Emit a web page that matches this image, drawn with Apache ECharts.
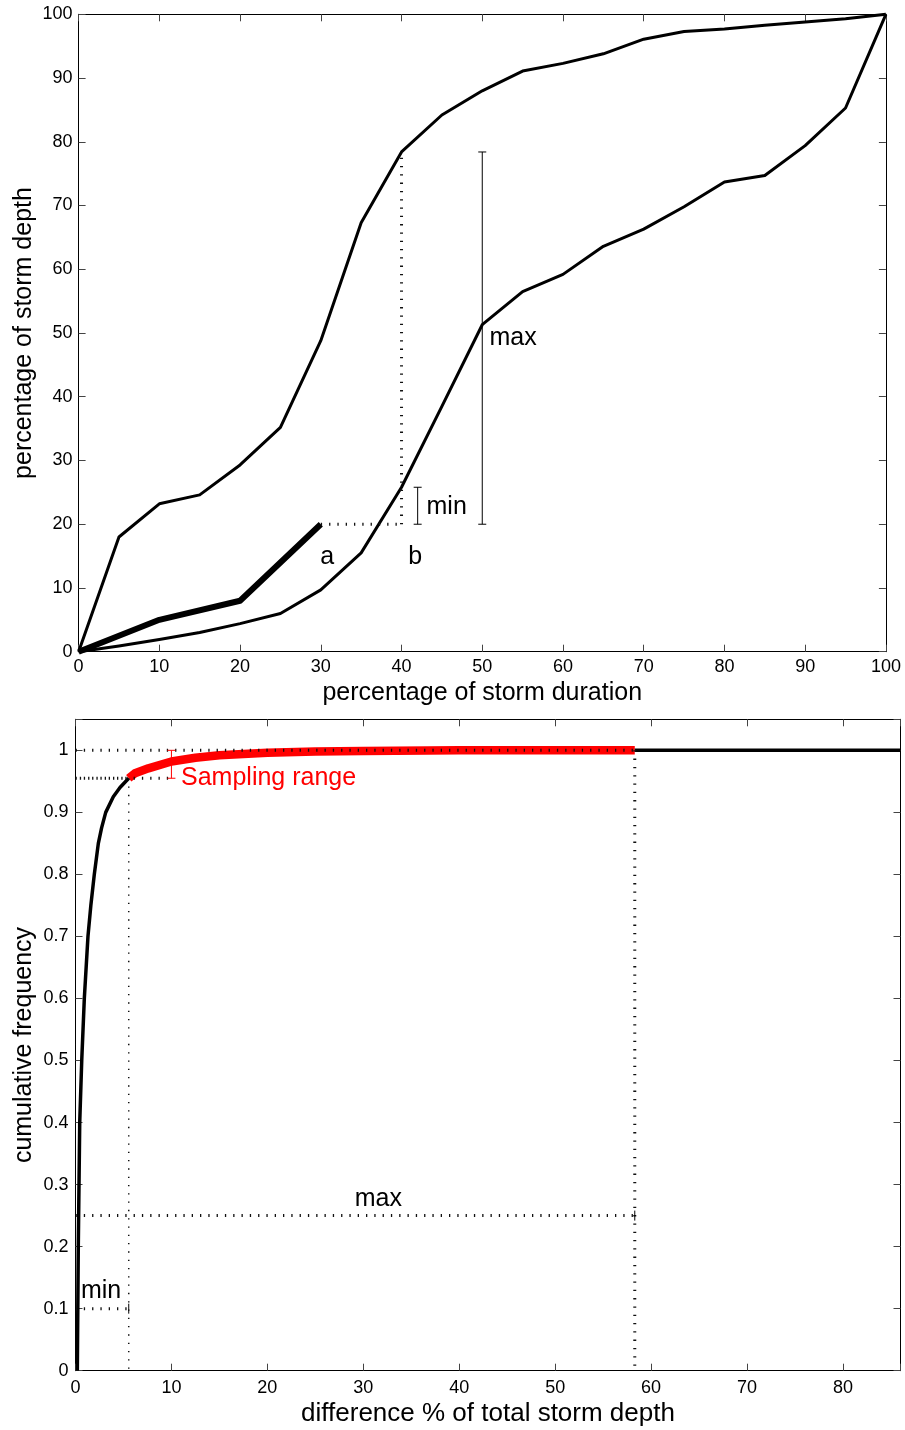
<!DOCTYPE html>
<html><head><meta charset="utf-8">
<script src="https://cdn.jsdelivr.net/npm/echarts@6/dist/echarts.min.js"></script>
<style>html,body{margin:0;padding:0;background:#fff}#c{width:905px;height:1430px}</style>
</head><body><div id="c"></div>
<script>
// ---------- top panel data ----------
const durationPct   = [0,5,10,15,20,25,30,35,40,45,50,55,60,65,70,75,80,85,90,95,100];
const upperDepthPct = [0,18,23.2,24.6,29.3,35.2,48.8,67.3,78.4,84.2,88,91.1,92.3,93.8,96.1,97.3,97.7,98.3,98.8,99.3,100];
const lowerDepthPct = [0,0.9,1.9,3.0,4.4,6.0,9.7,15.5,25.8,38.5,51.3,56.5,59.2,63.6,66.3,69.8,73.7,74.7,79.4,85.3,100];
const stormADuration = [0,10,20,30];
const stormADepth    = [0,5,8,20];
const pointBDuration = 40;
const maxBar = [50, 20, 78.4];   // duration, low, high
const minBar = [42, 20, 25.8];
const topTickStep = 10;

// ---------- bottom panel data ----------
const cdfDiff  = [0.19,0.29,0.44,0.65,0.92,1.3,1.6,1.96,2.38,2.72,3.15,3.94,4.64,5.55];
const cdfFreq  = [0,0.2,0.4,0.5,0.6,0.7,0.75,0.8,0.85,0.875,0.9,0.925,0.94,0.955];
const sampleDiff = [5.55,6.2,7.6,10,12.5,15,20,25,30,40,50,58.3];
const sampleFreq = [0.955,0.963,0.971,0.982,0.988,0.992,0.996,0.998,0.999,1,1,1];
const tailDiff = [58.3, 86];
const tailFreq = [1, 1];
const samplingBar = [10, 0.955, 1.0]; // diff, low, high
const minDiff = 5.55, maxDiff = 58.3;
const minLevel = 0.1, maxLevel = 0.25;
const bottomXMax = 86, bottomYMax = 1.05;

const FONT = '"Liberation Sans", Arial, sans-serif';
const zip = (a, b) => a.map((v, i) => [v, b[i]]);

function axisCommon(extra) {
  return Object.assign({
    type: 'value',
    nameMoveOverlap: false,
    axisLine: { show: true, onZero: false, lineStyle: { color: '#000', width: 1 } },
    axisTick: { show: true, inside: true, length: 7, lineStyle: { color: '#444', width: 1 } },
    splitLine: { show: false },
    nameTextStyle: { fontFamily: FONT, fontSize: 25, color: '#000' }
  }, extra);
}
function labelFmt(step) {
  return function (v) {
    const r = v / step;
    if (Math.abs(r - Math.round(r)) > 1e-6) return '';
    return String(+v.toFixed(3));
  };
}
const lbl = (margin, step) => ({ show: true, margin: margin, fontFamily: FONT, fontSize: 18, color: '#000', formatter: labelFmt(step) });
const noLbl = { show: false };

const xAxes = [
  axisCommon({ gridIndex: 0, position: 'bottom', min: 0, max: 100, interval: topTickStep, axisLabel: lbl(6, 10),
    name: 'percentage of storm duration', nameLocation: 'middle', nameGap: 29 }),
  axisCommon({ gridIndex: 0, position: 'top', min: 0, max: 100, interval: topTickStep, axisLabel: noLbl }),
  axisCommon({ gridIndex: 1, position: 'bottom', min: 0, max: bottomXMax, interval: 10, axisLabel: lbl(8, 10),
    name: 'difference % of total storm depth', nameLocation: 'middle', nameGap: 30,
    nameTextStyle: { fontFamily: FONT, fontSize: 26, color: '#000' } }),
  axisCommon({ gridIndex: 1, position: 'top', min: 0, max: bottomXMax, interval: 10, axisLabel: noLbl })
];
const yAxes = [
  axisCommon({ gridIndex: 0, position: 'left', min: 0, max: 100, interval: topTickStep, axisLabel: lbl(6, 10),
    name: 'percentage of storm depth', nameLocation: 'middle', nameRotate: 90, nameGap: 42 }),
  axisCommon({ gridIndex: 0, position: 'right', min: 0, max: 100, interval: topTickStep, axisLabel: noLbl }),
  axisCommon({ gridIndex: 1, position: 'left', min: 0, max: bottomYMax, interval: 0.1, axisLabel: lbl(7, 0.1),
    name: 'cumulative frequency', nameLocation: 'middle', nameRotate: 90, nameGap: 38.5 }),
  axisCommon({ gridIndex: 1, position: 'right', min: 0, max: bottomYMax, interval: 0.1, axisLabel: noLbl })
];

function lineSeries(xi, yi, data, color, width, z) {
  return { type: 'line', xAxisIndex: xi, yAxisIndex: yi, data: data, symbol: 'none', silent: true, clip: false,
    animation: false, lineStyle: { color: color, width: width, join: 'round' }, z: z || 3 };
}
function dotted(xi, yi, data, offset, width) {
  return { type: 'line', xAxisIndex: xi, yAxisIndex: yi, data: data, symbol: 'none', silent: true, clip: false,
    animation: false, lineStyle: { color: '#111', width: width || 3, type: [1.3, 7], dashOffset: offset || 0, cap: 'butt' }, z: 6 };
}
function vErr(color, half) {
  return function (params, api) {
    const x = api.value(0), lo = api.value(1), hi = api.value(2);
    const a = api.coord([x, lo]), b = api.coord([x, hi]);
    const st = { stroke: color, lineWidth: 1 };
    return { type: 'group', children: [
      { type: 'line', shape: { x1: a[0], y1: a[1], x2: b[0], y2: b[1] }, style: st },
      { type: 'line', shape: { x1: a[0] - half, y1: a[1], x2: a[0] + half, y2: a[1] }, style: st },
      { type: 'line', shape: { x1: b[0] - half, y1: b[1], x2: b[0] + half, y2: b[1] }, style: st }
    ] };
  };
}
function hCaps(color, half) {
  return function (params, api) {
    const y = api.value(0), lo = api.value(1), hi = api.value(2);
    const a = api.coord([lo, y]), b = api.coord([hi, y]);
    const st = { stroke: color, lineWidth: 1 };
    return { type: 'group', children: [
      { type: 'line', shape: { x1: a[0], y1: a[1] - half, x2: a[0], y2: a[1] + half }, style: st },
      { type: 'line', shape: { x1: b[0], y1: b[1] - half, x2: b[0], y2: b[1] + half }, style: st }
    ] };
  };
}

const series = [
  // top panel
  lineSeries(0, 0, zip(durationPct, upperDepthPct), '#000', 3),
  lineSeries(0, 0, zip(durationPct, lowerDepthPct), '#000', 3),
  lineSeries(0, 0, zip(stormADuration, stormADepth), '#000', 6, 4),
  dotted(0, 0, [[stormADuration[3], stormADepth[3]], [pointBDuration, stormADepth[3]]]),
  dotted(0, 0, [[pointBDuration, stormADepth[3]], [pointBDuration, upperDepthPct[8]]]),
  { type: 'custom', xAxisIndex: 0, yAxisIndex: 0, data: [maxBar, minBar], encode: { x: 0, y: [1, 2] },
    renderItem: vErr('#000', 4), silent: true, clip: false, animation: false, z: 7 },
  // bottom panel
  lineSeries(2, 2, zip(cdfDiff, cdfFreq), '#000', 3.5),
  lineSeries(2, 2, zip(sampleDiff, sampleFreq), '#ff0000', 8.5),
  lineSeries(2, 2, zip(tailDiff, tailFreq), '#000', 3.5),
  dotted(2, 2, [[0, 1], [maxDiff, 1]]),
  dotted(2, 2, [[0, samplingBar[1]], [samplingBar[0], samplingBar[1]]]),
  dotted(2, 2, [[0, samplingBar[1]], [minDiff, samplingBar[1]]], 4),
  dotted(2, 2, [[minDiff, samplingBar[1]], [minDiff, 0]], 0, 1.5),
  dotted(2, 2, [[maxDiff, 1], [maxDiff, 0]]),
  dotted(2, 2, [[0, maxLevel], [maxDiff, maxLevel]]),
  dotted(2, 2, [[0, minLevel], [minDiff, minLevel]]),
  { type: 'custom', xAxisIndex: 2, yAxisIndex: 2, data: [samplingBar], encode: { x: 0, y: [1, 2] },
    renderItem: vErr('#ff0000', 4), silent: true, clip: false, animation: false, z: 7 },
  { type: 'custom', xAxisIndex: 2, yAxisIndex: 2, data: [[maxLevel, 0, maxDiff], [minLevel, 0, minDiff]], encode: { y: 0, x: [1, 2] },
    renderItem: hCaps('#000', 5), silent: true, clip: false, animation: false, z: 7 }
];

const chart = echarts.init(document.getElementById('c'), null, { renderer: 'canvas' });
chart.setOption({
  backgroundColor: '#fff',
  animation: false,
  grid: [
    { left: 78.6, top: 14.3, width: 807.3, height: 637.4, outerBoundsMode: 'none', containLabel: false },
    { left: 75.5, top: 719.3, width: 825, height: 651.4, outerBoundsMode: 'none', containLabel: false }
  ],
  xAxis: xAxes,
  yAxis: yAxes,
  series: series
});

const notes = [
  { g: 0, text: 'max', x: 50.9, y: 49.2, align: 'left', color: '#000' },
  { g: 0, text: 'min', x: 43.1, y: 22.7, align: 'left', color: '#000' },
  { g: 0, text: 'a', x: 30.8, y: 14.9, align: 'center', color: '#000' },
  { g: 0, text: 'b', x: 41.7, y: 14.9, align: 'center', color: '#000' },
  { g: 1, text: 'Sampling range', x: 11.0, y: 0.9545, align: 'left', color: '#ff0000' },
  { g: 1, text: 'max', x: 29.1, y: 0.277, align: 'left', color: '#000' },
  { g: 1, text: 'min', x: 0.57, y: 0.1285, align: 'left', color: '#000' }
];
chart.setOption({
  graphic: notes.map(n => {
    const p = chart.convertToPixel({ gridIndex: n.g }, [n.x, n.y]);
    return { type: 'text', x: p[0], y: p[1], silent: true, z: 100,
      style: { text: n.text, font: '25px ' + FONT, fill: n.color,
        textAlign: n.align, textVerticalAlign: 'middle', align: n.align, verticalAlign: 'middle' } };
  })
});
</script></body></html>
